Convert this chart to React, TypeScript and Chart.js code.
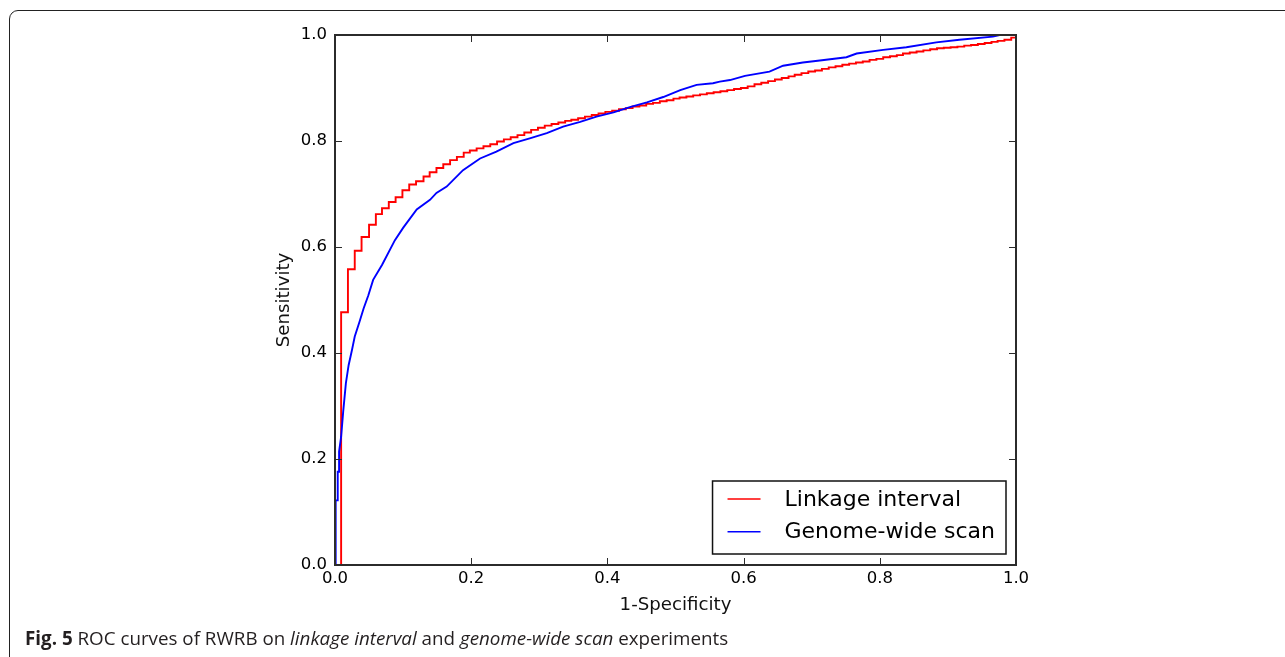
import React, { useEffect, useRef } from "react";
import { Chart, registerables } from "chart.js";

Chart.register(...registerables);

// Tick labels
const tickValues = [0.0, 0.2, 0.4, 0.6, 0.8, 1.0];
const xTitle = "1-Specificity";
const yTitle = "Sensitivity";
const seriesLabels = ["Linkage interval", "Genome-wide scan"];
const seriesColors = ["#ff0000", "#0000ff"];

// Linkage interval (stepped ROC): false positive rate and sensitivity
const linkageFpr = [
  0.0, 0.009, 0.019, 0.029, 0.039, 0.05, 0.06, 0.069, 0.079, 0.089, 0.099,
  0.109, 0.119, 0.13, 0.139, 0.149, 0.159, 0.169, 0.179, 0.189, 0.198,
  0.208, 0.218, 0.228, 0.238, 0.248, 0.258, 0.268, 0.278, 0.288, 0.298,
  0.308, 0.318, 0.328, 0.338, 0.347, 0.357, 0.367, 0.377, 0.387, 0.397,
  0.407, 0.417, 0.427, 0.437, 0.447, 0.457, 0.467, 0.477, 0.487, 0.497,
  0.506, 0.516, 0.526, 0.536, 0.546, 0.556, 0.566, 0.576, 0.586, 0.596,
  0.606, 0.616, 0.626, 0.636, 0.646, 0.656, 0.666, 0.675, 0.685, 0.695,
  0.705, 0.715, 0.725, 0.735, 0.745, 0.755, 0.765, 0.775, 0.785, 0.795,
  0.805, 0.815, 0.825, 0.834, 0.844, 0.854, 0.864, 0.874, 0.884, 0.894,
  0.904, 0.914, 0.924, 0.934, 0.944, 0.954, 0.964, 0.973, 0.983, 0.993,
  1.0,
];
const linkageTpr = [
  0.0, 0.477, 0.558, 0.593, 0.619, 0.642, 0.662, 0.673, 0.685, 0.694, 0.707,
  0.718, 0.724, 0.733, 0.741, 0.749, 0.756, 0.764, 0.77, 0.778, 0.782,
  0.786, 0.79, 0.794, 0.799, 0.803, 0.807, 0.811, 0.816, 0.821, 0.825,
  0.829, 0.832, 0.835, 0.838, 0.84, 0.843, 0.846, 0.849, 0.852, 0.855,
  0.857, 0.86, 0.862, 0.865, 0.867, 0.87, 0.872, 0.875, 0.877, 0.88,
  0.882, 0.884, 0.886, 0.888, 0.89, 0.892, 0.894, 0.896, 0.898, 0.9,
  0.903, 0.907, 0.91, 0.913, 0.916, 0.919, 0.922, 0.925, 0.928, 0.931,
  0.933, 0.936, 0.939, 0.941, 0.944, 0.946, 0.948, 0.95, 0.953, 0.955,
  0.958, 0.96, 0.962, 0.965, 0.967, 0.969, 0.971, 0.973, 0.975, 0.976,
  0.977, 0.978, 0.98, 0.981, 0.983, 0.985, 0.987, 0.989, 0.991, 0.995,
  1.0,
];

// Genome-wide scan ROC
const genomeFpr = [
  0.001, 0.001, 0.004, 0.004, 0.006, 0.006, 0.009, 0.012, 0.016, 0.02,
  0.025, 0.029, 0.036, 0.042, 0.049, 0.056, 0.069, 0.088, 0.1, 0.12,
  0.1395, 0.149, 0.164, 0.188, 0.213, 0.237, 0.262, 0.286, 0.311, 0.335,
  0.36, 0.384, 0.409, 0.433, 0.458, 0.482, 0.507, 0.531, 0.555, 0.565,
  0.58, 0.602, 0.638, 0.658, 0.687, 0.712, 0.751, 0.766, 0.805, 0.839,
  0.883, 0.917, 0.966, 0.976, 1.0,
];
const genomeTpr = [
  0.0, 0.122, 0.122, 0.176, 0.176, 0.214, 0.242, 0.289, 0.343, 0.377,
  0.406, 0.431, 0.459, 0.484, 0.509, 0.538, 0.566, 0.613, 0.636, 0.671,
  0.689, 0.702, 0.714, 0.745, 0.767, 0.78, 0.796, 0.805, 0.815, 0.827,
  0.836, 0.846, 0.854, 0.864, 0.873, 0.883, 0.896, 0.906, 0.909, 0.912,
  0.915, 0.923, 0.931, 0.942, 0.948, 0.952, 0.958, 0.965, 0.972, 0.977,
  0.986, 0.991, 0.997, 1.0, 1.0,
];

const tickFont = { family: "'DejaVu Sans', sans-serif", size: 16.5 };
const titleFont = { family: "'DejaVu Sans', sans-serif", size: 18.2 };

const framePlugin = {
  id: "frameTicks",
  afterDatasetsDraw(chart: any) {
    const { ctx, chartArea: a, scales } = chart;
    const xs = scales.x;
    const ys = scales.y;
    ctx.save();
    ctx.strokeStyle = "#2b2b2b";
    ctx.lineWidth = 1;
    const tl = 7;
    ctx.beginPath();
    for (const v of tickValues) {
      const px = Math.round(xs.getPixelForValue(v)) + 0.5;
      ctx.moveTo(px, a.bottom);
      ctx.lineTo(px, a.bottom - tl);
      ctx.moveTo(px, a.top);
      ctx.lineTo(px, a.top + tl);
      const py = Math.round(ys.getPixelForValue(v)) + 0.5;
      ctx.moveTo(a.left, py);
      ctx.lineTo(a.left + tl, py);
      ctx.moveTo(a.right, py);
      ctx.lineTo(a.right - tl, py);
    }
    ctx.stroke();
    ctx.lineWidth = 2;
    ctx.strokeRect(a.left, a.top, a.right - a.left, a.bottom - a.top);

    // legend inside the axes, lower right
    const pad = 15, lineLen = 33, gap = 24, rightPad = 11;
    ctx.font = "22px 'DejaVu Sans', sans-serif";
    const labels = chart.data.datasets.map((d: any) => d.label);
    const legendOrder = [...chart.data.datasets].sort(
      (p: any, q: any) => p.legendIndex - q.legendIndex
    );
    const tw = Math.max(...labels.map((t: string) => ctx.measureText(t).width));
    const w = pad + lineLen + gap + tw + rightPad;
    const h = 73;
    const right = a.right - 10;
    const bottom = a.bottom - 11;
    const left = right - w;
    const top = bottom - h;
    ctx.fillStyle = "#ffffff";
    ctx.fillRect(left, top, w, h);
    ctx.lineWidth = 1.5;
    ctx.strokeStyle = "#111";
    ctx.strokeRect(left, top, w, h);
    legendOrder.forEach((d: any, i: number) => {
      const cy = top + 18 + i * 32.7;
      ctx.strokeStyle = d.borderColor;
      ctx.lineWidth = 1.5;
      ctx.beginPath();
      ctx.moveTo(left + pad, cy);
      ctx.lineTo(left + pad + lineLen, cy);
      ctx.stroke();
      ctx.fillStyle = "#000";
      ctx.textBaseline = "middle";
      ctx.textAlign = "left";
      ctx.fillText(d.label, left + pad + lineLen + gap, cy + 1);
    });
    ctx.restore();
  },
};

function toPoints(xs: number[], ys: number[]) {
  return xs.map((x, i) => ({ x, y: ys[i] }));
}

function RocChart() {
  const ref = useRef<HTMLCanvasElement | null>(null);
  useEffect(() => {
    if (!ref.current) return;
    const chart = new Chart(ref.current, {
      type: "line",
      data: {
        datasets: [
          {
            label: seriesLabels[1],
            data: toPoints(genomeFpr, genomeTpr),
            borderColor: seriesColors[1],
            borderWidth: 1.9,
            pointRadius: 0,
            fill: false,
            order: 1,
            legendIndex: 1,
          } as any,
          {
            label: seriesLabels[0],
            data: toPoints(linkageFpr, linkageTpr),
            borderColor: seriesColors[0],
            borderWidth: 1.9,
            pointRadius: 0,
            stepped: "before",
            fill: false,
            order: 2,
            legendIndex: 0,
          } as any,
        ],
      },
      options: {
        responsive: false,
        animation: false,
        events: [],
        layout: { padding: { left: 0, top: 35, right: 269, bottom: 0 } },
        plugins: { legend: { display: false }, tooltip: { enabled: false } },
        scales: {
          x: {
            type: "linear",
            min: 0,
            max: 1,
            afterBuildTicks: (s: any) => {
              s.ticks = tickValues.map((v) => ({ value: v }));
            },
            afterFit: (s: any) => {
              s.height = 92;
            },
            grid: { display: false, drawTicks: false },
            border: { display: false },
            ticks: {
              padding: 4,
              color: "#000",
              font: tickFont,
              maxRotation: 0,
              callback: (v: any) => Number(v).toFixed(1),
            },
            title: {
              display: true,
              text: xTitle,
              color: "#111",
              font: titleFont,
              padding: { top: 0, bottom: 41 },
            },
          },
          y: {
            type: "linear",
            min: 0,
            max: 1,
            afterBuildTicks: (s: any) => {
              s.ticks = tickValues.map((v) => ({ value: v }));
            },
            afterFit: (s: any) => {
              s.width = 335;
            },
            grid: { display: false, drawTicks: false },
            border: { display: false },
            ticks: {
              padding: 8,
              color: "#000",
              font: tickFont,
              callback: (v: any) => Number(v).toFixed(1),
            },
            title: {
              display: true,
              text: yTitle,
              color: "#111",
              font: titleFont,
              padding: { top: 273, bottom: 0 },
            },
          },
        },
      },
      plugins: [framePlugin],
    });
    return () => chart.destroy();
  }, []);
  return (
    <canvas
      ref={ref}
      width={1285}
      height={657}
      style={{ position: "absolute", left: 0, top: 0, width: 1285, height: 657, display: "block" }}
    />
  );
}

export default function App() {
  return (
    <div
      style={{
        position: "fixed",
        left: 0,
        top: 0,
        width: 1285,
        height: 657,
        overflow: "hidden",
        background: "#fff",
      }}
    >
      <div
        style={{
          position: "absolute",
          left: 8.5,
          top: 9.5,
          width: 1320,
          height: 720,
          border: "1.5px solid #222",
          borderRadius: 9,
          boxSizing: "border-box",
        }}
      />
      <RocChart />
      <div
        style={{
          position: "absolute",
          left: 25,
          top: 627,
          fontFamily: "'Open Sans', sans-serif",
          fontSize: 18.8,
          lineHeight: "22px",
          color: "#231f20",
          whiteSpace: "nowrap",
        }}
      >
        <b>Fig. 5</b> ROC curves of RWRB on <i>linkage interval</i> and{" "}
        <i>genome-wide scan</i> experiments
      </div>
    </div>
  );
}
